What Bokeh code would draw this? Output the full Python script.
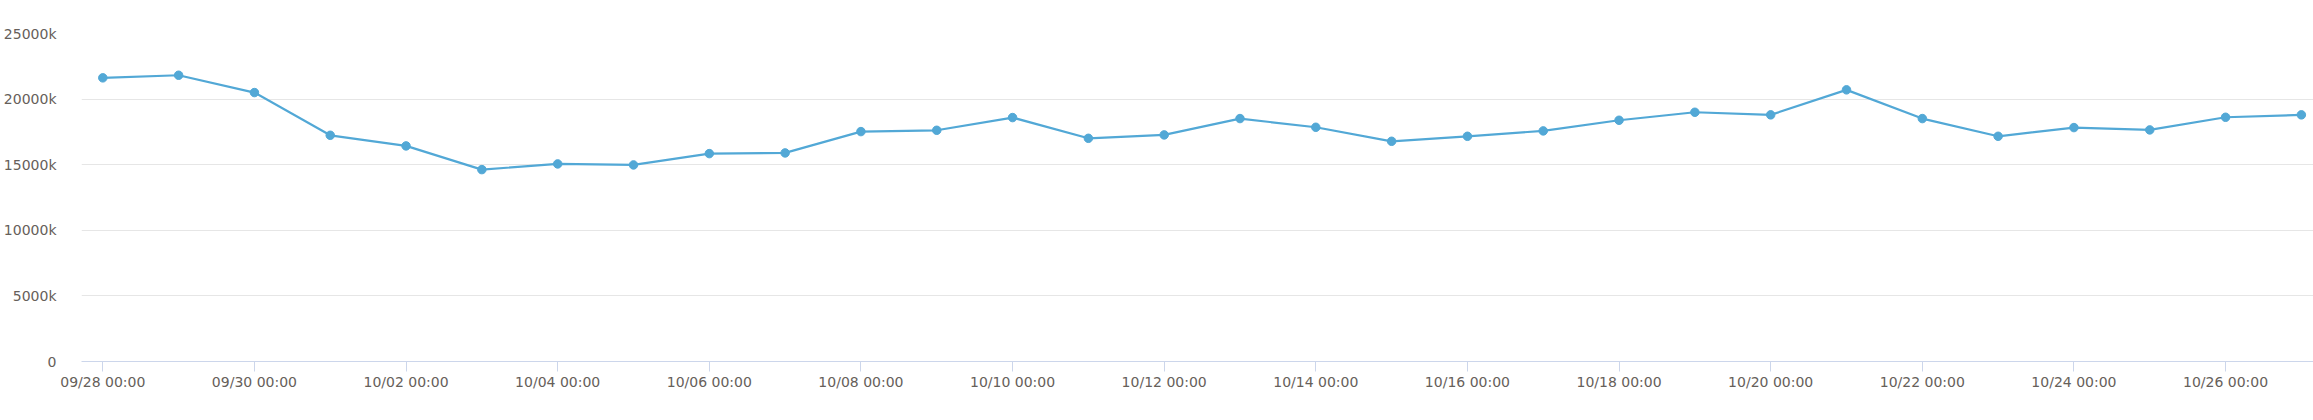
from datetime import datetime, timedelta
from bokeh.plotting import figure
from bokeh.models import (ColumnDataSource, FixedTicker, DatetimeTickFormatter,
                          Range1d, Legend, LegendItem)
from bokeh.embed import file_html
from bokeh.resources import INLINE

# ---- data (values in thousands, "k") ----
start_day = datetime(2019, 9, 28)
day_offsets = list(range(30))  # 09/28 .. 10/27
total_count_k = [21620, 21818, 20498, 17241, 16433, 14625, 15060, 14983, 15845, 15898,
                 17523, 17623, 18592, 17012, 17272, 18516, 17852, 16784, 17165, 17577,
                 18386, 18996, 18798, 20705, 18516, 17165, 17829, 17653, 18615, 18798]
y_ticks = [0, 5000, 10000, 15000, 20000, 25000]
y_tick_labels = ["0", "5000k", "10000k", "15000k", "20000k", "25000k"]
x_tick_day_offsets = list(range(0, 30, 2))
series_name = "totalCount"

dates = [start_day + timedelta(days=d) for d in day_offsets]
src = ColumnDataSource(dict(x=dates, y=total_count_k))

p = figure(width=2313, height=420, x_axis_type="datetime",
           output_backend="svg", toolbar_location=None,
           min_border_left=80, min_border_right=0, min_border_top=33,
           min_border_bottom=59)
p.outline_line_color = None
p.background_fill_color = "white"
p.border_fill_color = "white"

p.x_range = Range1d(start_day - timedelta(days=0.281), start_day + timedelta(days=29.16))
p.y_range = Range1d(0, 25000)

line_color = "#52a8d6"
r_line = p.line("x", "y", source=src, line_color=line_color, line_width=2.2)
r_pts = p.scatter("x", "y", source=src, size=8.5, fill_color=line_color,
                  line_color=line_color, marker="circle")

# y axis
yax = p.yaxis[0]
yax.ticker = FixedTicker(ticks=y_ticks)
yax.major_label_overrides = {t: l for t, l in zip(y_ticks, y_tick_labels)}
yax.axis_line_color = None
yax.major_tick_line_color = None
yax.minor_tick_line_color = None
yax.major_label_standoff = 19
yax.major_label_text_font = "DejaVu Sans"
yax.major_label_text_font_size = "14px"
yax.major_label_text_color = "#66605a"

# x axis
tick_ms = [(start_day + timedelta(days=d) - datetime(1970, 1, 1)).total_seconds() * 1000
           for d in x_tick_day_offsets]
xax = p.xaxis[0]
xax.ticker = FixedTicker(ticks=tick_ms)
fmt = "%m/%d %H:%M"
xax.formatter = DatetimeTickFormatter(microseconds=fmt, milliseconds=fmt, seconds=fmt,
                                      minsec=fmt, minutes=fmt, hourmin=fmt, hours=fmt,
                                      days=fmt, months=fmt, years=fmt)
xax.axis_line_color = "#ccd6eb"
xax.axis_line_width = 1
xax.major_tick_line_color = "#ccd6eb"
xax.major_tick_out = 10
xax.major_tick_in = 0
xax.minor_tick_line_color = None
xax.major_label_standoff = 2
xax.major_label_text_font = "DejaVu Sans"
xax.major_label_text_font_size = "14px"
xax.major_label_text_color = "#66605a"

p.xgrid.grid_line_color = None
p.ygrid.ticker = FixedTicker(ticks=y_ticks)
p.ygrid.grid_line_color = "#e6e6e6"
p.ygrid.grid_line_width = 1

legend = Legend(items=[LegendItem(label=series_name, renderers=[r_line, r_pts])],
                location=(1030, -68), orientation="horizontal",
                padding=0, margin=0, spacing=0, glyph_width=22, glyph_height=14,
                label_standoff=5, label_height=14,
                label_text_font="DejaVu Sans", label_text_font_size="13px",
                label_text_font_style="bold", label_text_color="#333333",
                background_fill_alpha=0, border_line_color=None)
p.add_layout(legend, "center")

open("out.html", "w").write(file_html(p, INLINE))
